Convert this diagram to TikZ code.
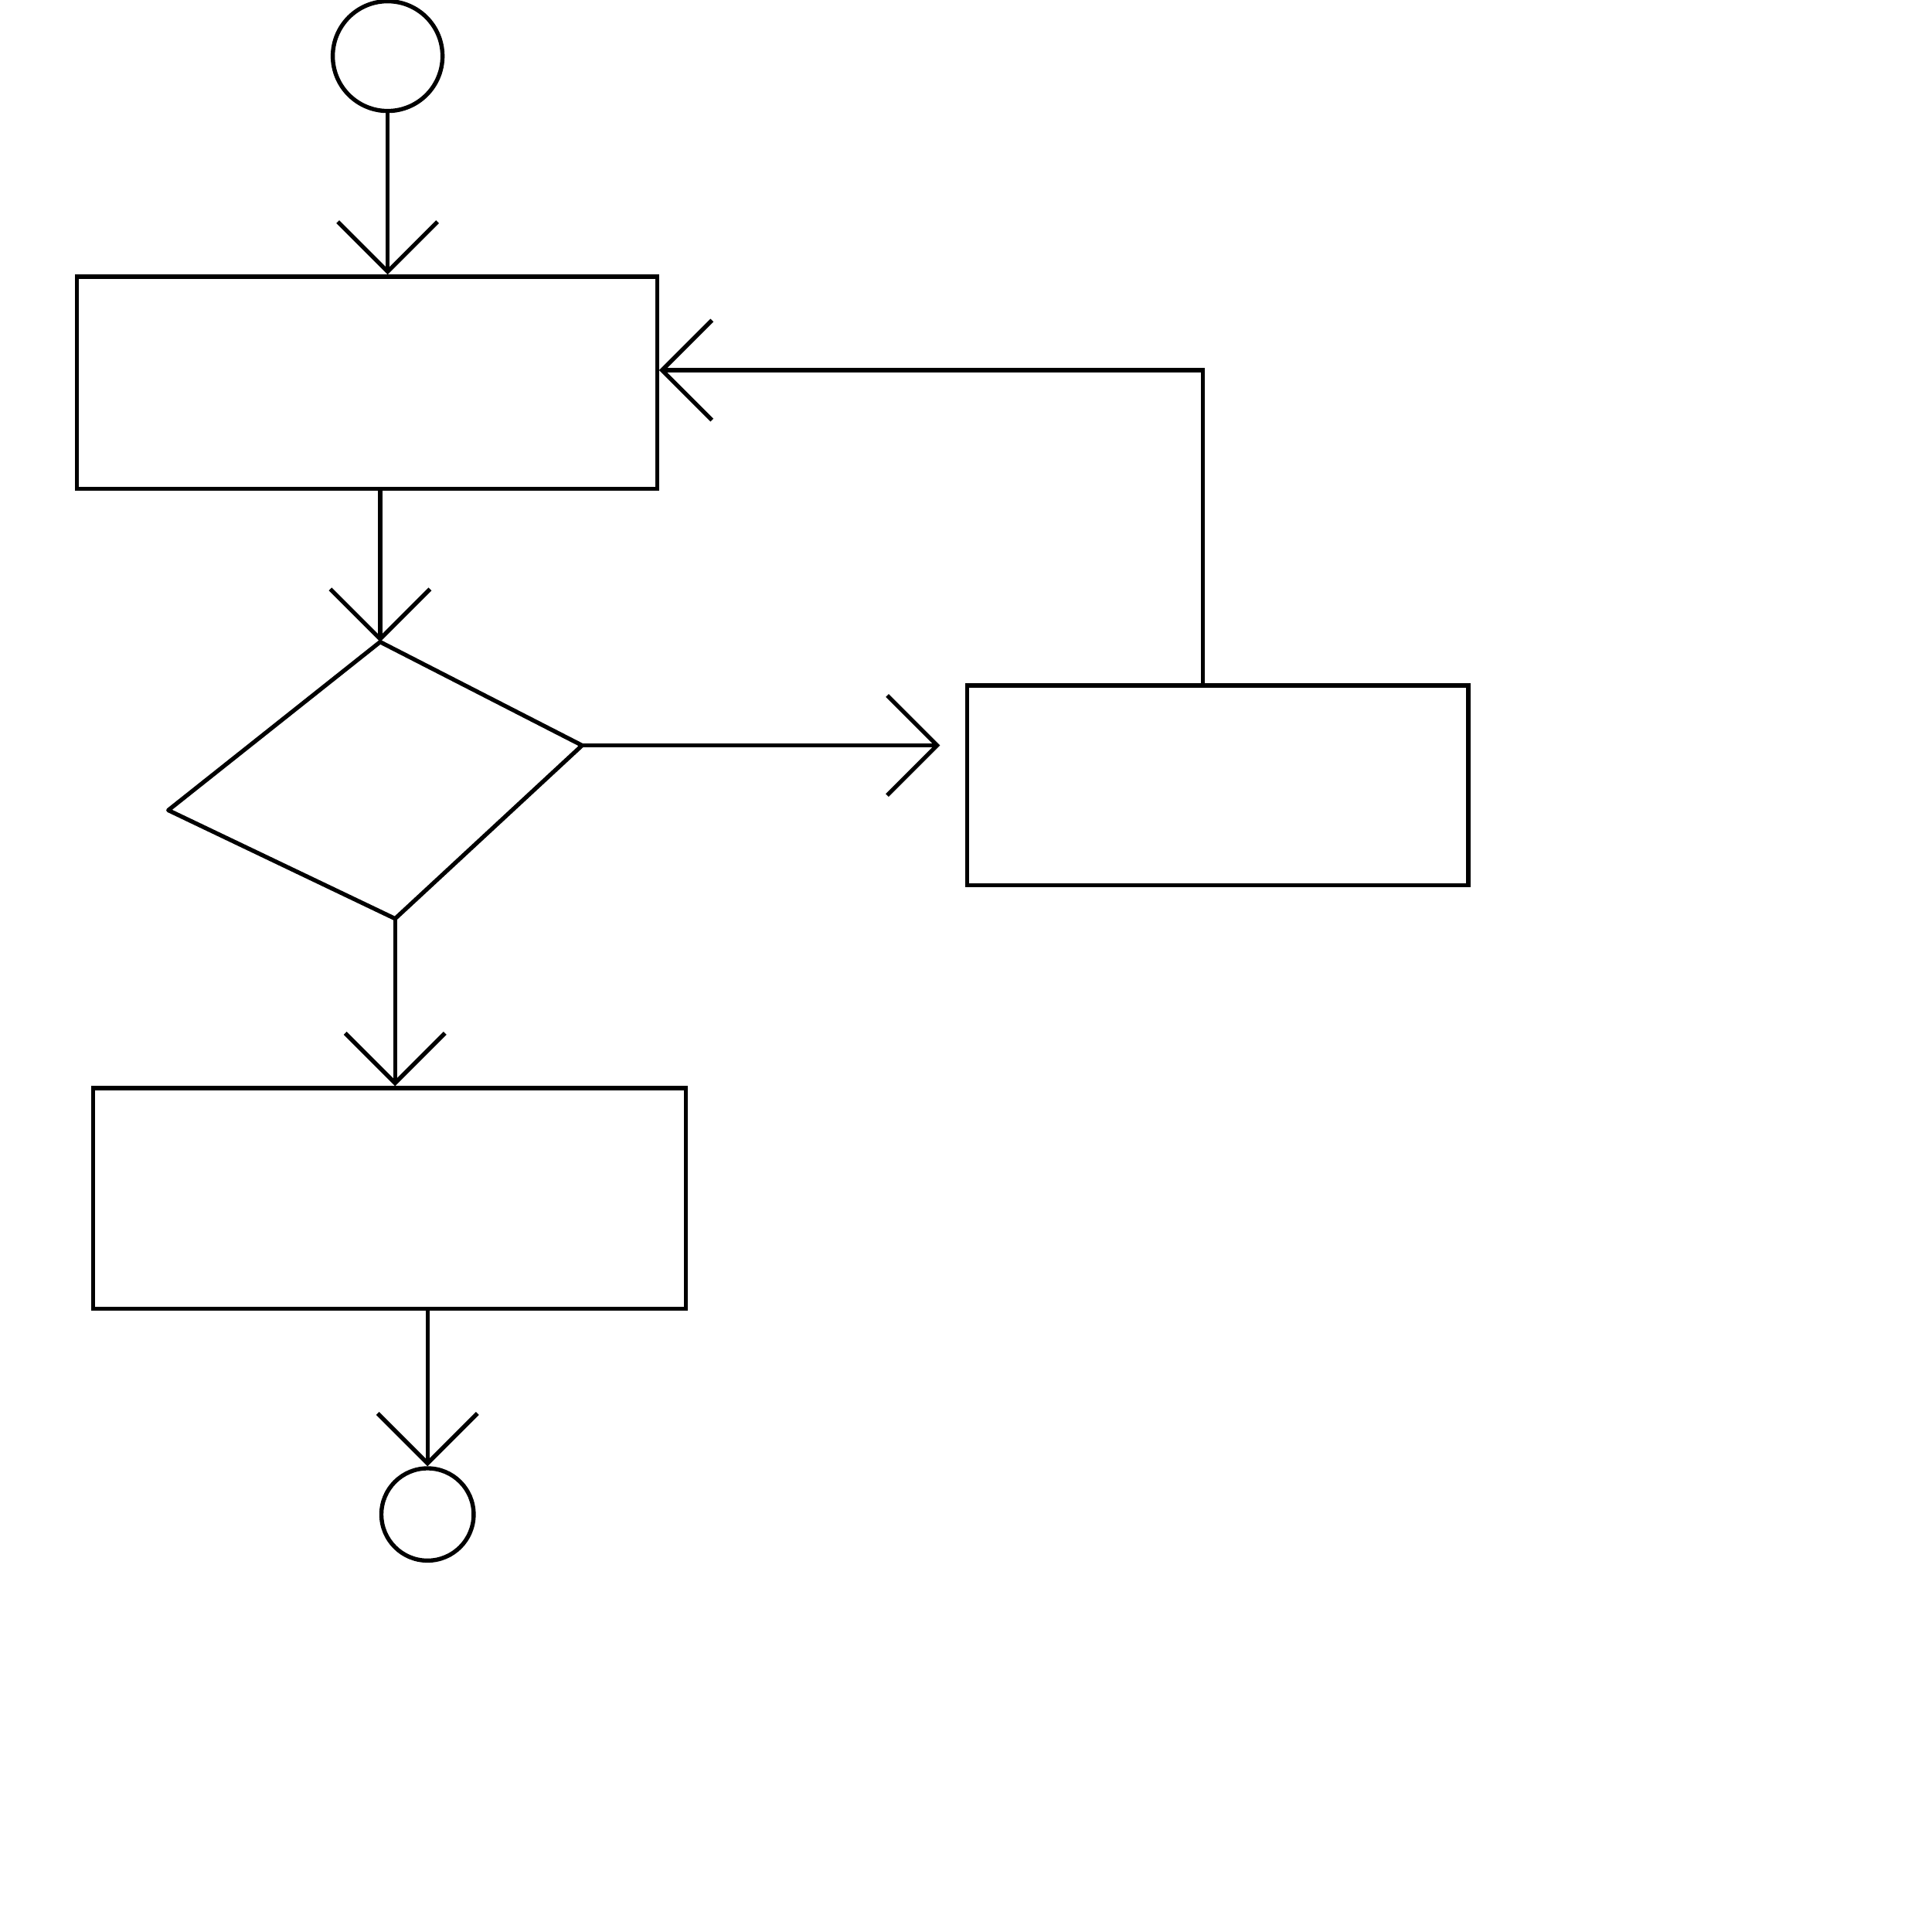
\documentclass[tikz,border=0pt]{standalone}
\usetikzlibrary{arrows.meta,calc}
\begin{document}
\begin{tikzpicture}[x=0.01cm,y=-0.01cm,
  line width=0.95pt,
  termnode/.style={draw,circle,inner sep=0pt},
  procbox/.style={draw,rectangle,inner sep=0pt},
  flow/.style={draw,-{Straight Barb[length=4mm,width=8mm,line width=0.95pt]}},
  decisionline/.style={draw,line join=round}]
\useasboundingbox (0,0) rectangle (1550,1550);
\fill[white] (0,0) rectangle (1550,1550);
% nodes
\node[termnode,minimum size=0.88cm] (start) at (311,45) {};
\node[procbox,minimum width=4.65cm,minimum height=1.70cm] (box1) at (294.5,307) {};
\coordinate (dtop) at (305,515);
\coordinate (dright) at (467,598);
\coordinate (dbottom) at (317,737);
\coordinate (dleft) at (135,650);
\draw[decisionline] (dtop) -- (dright) -- (dbottom) -- (dleft) -- cycle;
\node[procbox,minimum width=4.02cm,minimum height=1.60cm] (box3) at (977,630) {};
\node[procbox,minimum width=4.75cm,minimum height=1.77cm] (box2) at (312.5,961.5) {};
\node[termnode,minimum size=0.74cm] (end) at (343,1215) {};
% connectors
\draw[flow] (start.south) -- (start.south |- box1.north);
\draw[flow] (dtop |- box1.south) -- (dtop);
\draw[flow,shorten >=0.2cm] (dright) -- (dright -| box3.west);
\draw[flow] ($(box3.north)+(-12,0)$) |- ($(box1.east)+(0,-10)$);
\draw[flow] (dbottom) -- (dbottom |- box2.north);
\draw[flow] (end.north |- box2.south) -- (end.north);
\end{tikzpicture}
\end{document}
